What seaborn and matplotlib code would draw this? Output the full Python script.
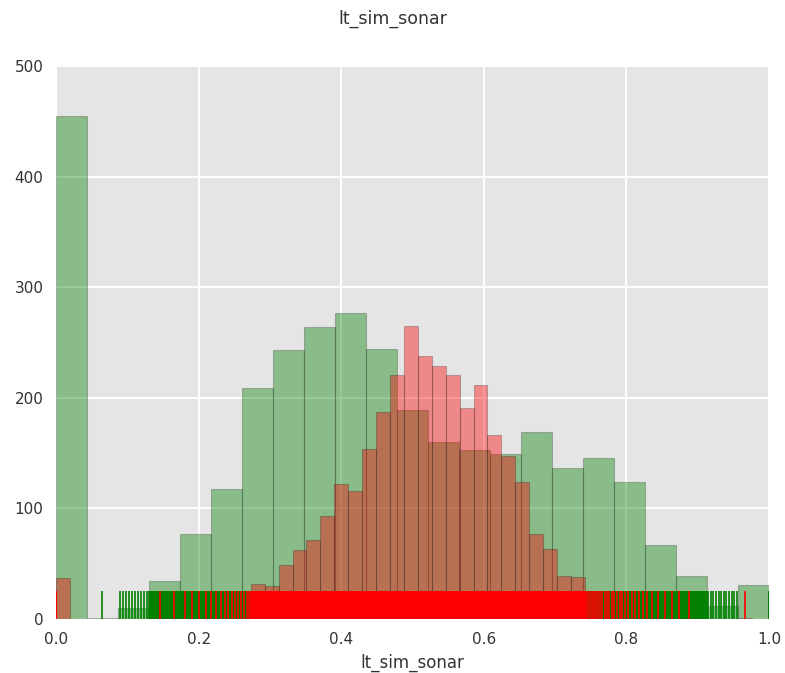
import numpy as np
import pandas as pd
import matplotlib
matplotlib.use("Agg")
import matplotlib.pyplot as plt
import seaborn as sns

# Histogram counts for lt_sim_sonar, two groups
green_edges_range = (0.0, 1.0)
green_counts = [455, 1, 10, 34, 77, 118, 209, 243, 264, 277, 244, 189,
                160, 153, 149, 169, 137, 146, 124, 67, 39, 12, 31]
# bins whose observations all sit on a single value (bin index -> value)
green_point_masses = {0: 0.0, 22: 1.0}

red_bin_width = 0.01952
red_counts = [37, 0, 0, 0, 0, 0, 0, 1, 1, 2, 2, 3, 4, 5,
              32, 30, 49, 62, 71, 93, 122, 116, 154, 187, 221, 265, 238,
              229, 221, 191, 212, 166, 147, 124, 77, 63, 39, 38,
              8, 6, 5, 4, 3, 2, 2, 1, 0, 0, 0, 1]
red_point_masses = {0: 0.0}

x_ticks = [0.0, 0.2, 0.4, 0.6, 0.8, 1.0]
y_ticks = [0, 100, 200, 300, 400, 500]
label = "lt_sim_sonar"

GREEN = (0.0, 0.5, 0.0)
RED = (1.0, 0.0, 0.0)


def expand(edges, counts, masses):
    """Turn binned counts back into observations spread across each bin."""
    values = []
    for i, n in enumerate(counts):
        if n == 0:
            continue
        if i in masses:
            values.extend([masses[i]] * n)
        else:
            lo, hi = edges[i], edges[i + 1]
            values.extend(lo + (np.arange(n) + 0.5) / n * (hi - lo))
    return np.asarray(values)


green_edges = np.linspace(green_edges_range[0], green_edges_range[1], len(green_counts) + 1)
red_edges = np.arange(len(red_counts) + 1) * red_bin_width

green_vals = expand(green_edges, green_counts, green_point_masses)
red_vals = expand(red_edges, red_counts, red_point_masses)

sns.set_theme(style="darkgrid", rc={
    "axes.facecolor": "#E5E5E5",
    "figure.facecolor": "white",
    "grid.color": "white",
    "grid.linewidth": 1.4,
    "axes.edgecolor": "#E5E5E5",
    "text.color": "#333333",
    "xtick.color": "#333333",
    "ytick.color": "#333333",
    "axes.labelcolor": "#333333",
})
plt.rcParams["font.family"] = ["DejaVu Sans"]

fig = plt.figure(figsize=(7.85, 6.73), dpi=100)
ax = fig.add_axes([0.0713, 0.0802, 0.9083, 0.8217])

sns.histplot(x=green_vals, bins=green_edges, color=GREEN, alpha=0.4,
             linewidth=0.8, ax=ax)
sns.rugplot(x=green_vals, color=GREEN, height=0.05, linewidth=1.2, ax=ax)
sns.histplot(x=red_vals, bins=red_edges, color=RED, alpha=0.4,
             linewidth=0.8, ax=ax)
sns.rugplot(x=red_vals, color=RED, height=0.05, linewidth=1.2, ax=ax)

# translucent fills with faint dark outlines
for p in ax.patches:
    p.set_alpha(None)
    fc = p.get_facecolor()
    p.set_facecolor(fc[:3] + (0.4,))
    p.set_edgecolor((0.0, 0.0, 0.0, 0.22))

ax.set_xlim(0, 1)
ax.set_ylim(0, 500)
ax.set_xticks(x_ticks)
ax.set_xticklabels([f"{t:.1f}" for t in x_ticks])
ax.set_yticks(y_ticks)
ax.set_yticklabels([str(t) for t in y_ticks])
ax.tick_params(axis="both", length=0, pad=9, labelsize=11)
ax.set_xlabel(label, fontsize=12, labelpad=5)
ax.set_ylabel("")
ax.set_axisbelow(True)
for s in ax.spines.values():
    s.set_visible(False)

fig.suptitle(label, fontsize=12.5, y=0.985)

fig.savefig("out.png", dpi=100)
